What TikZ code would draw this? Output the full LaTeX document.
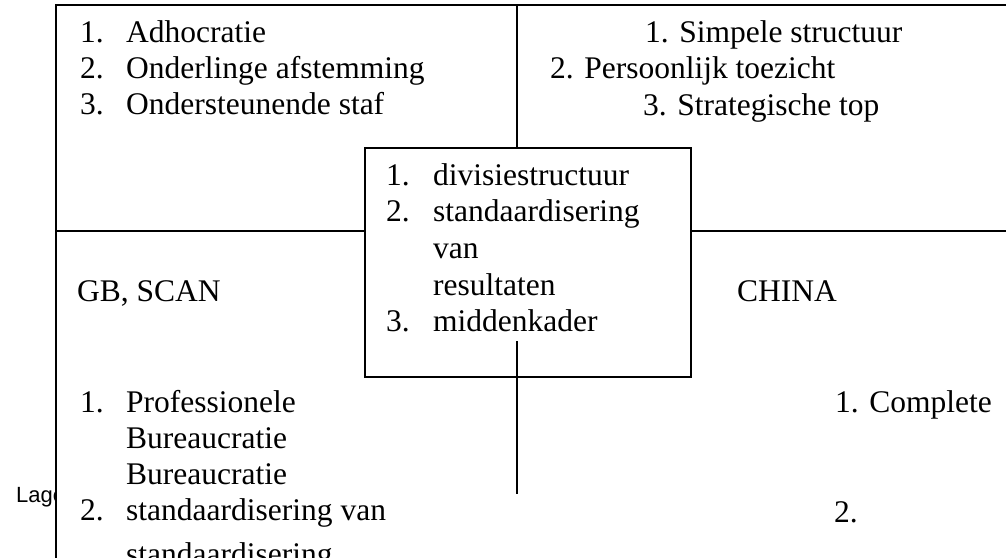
\documentclass[tikz,border=0pt]{standalone}
\usepackage{fontspec}
\setmainfont{Liberation Serif}
\newfontfamily\lagefont{Liberation Sans}
\begin{document}
\begin{tikzpicture}[
    x=1pt, y=-1pt,
    frame/.style={line width=1.8pt, line cap=rect},
    item/.style={anchor=base west, inner sep=0pt, font=\fontsize{31.5}{36}\selectfont},
    midbox/.style={draw, line width=1.8pt, minimum width=326pt, minimum height=229pt, inner sep=0pt},
]
\useasboundingbox (0,0) rectangle (1006,557);

% Tekst links buiten het kader
\begin{scope}
\clip (0,0) rectangle (56,557);
\node[anchor=base west, inner sep=0pt, font=\lagefont\fontsize{22}{24}\selectfont] (lage) at (16,502) {Lage};
\end{scope}

% Kader
\coordinate (tl) at (56,5);
\coordinate (tr) at (1010,5);
\coordinate (bl) at (56,560);
\coordinate (hl) at (56,231);
\coordinate (hr) at (1010,231);
\coordinate (vt) at (517,5);
\coordinate (vb1) at (517,342);
\coordinate (vb2) at (517,493);

\node[midbox] (mid) at (528,262.5) {};

\draw[frame] (bl) -- (tl) -- (tr);
\draw[frame] (hl) -- (hl -| mid.west);
\draw[frame] (hr) -- (hr -| mid.east);
\draw[frame] (vt) -- (vt |- mid.north);
\draw[frame] (vb1) -- (vb2);

% Kwadrant links boven
\node[item] (adhoc) at (80,42) {%
    \begin{tabular}[t]{@{}p{46pt}@{}l@{}}
    1. & Adhocratie \\
    2. & Onderlinge afstemming \\
    3. & Ondersteunende staf
    \end{tabular}};

% Kwadrant rechts boven
\node[item] (simpel) at (645,42) {1. Simpele structuur};
\node[item] (toezicht) at (550,78) {2. Persoonlijk toezicht};
\node[item] (top) at (643,115) {3. Strategische top};

% Middenvak
\node[item, font=\fontsize{31.5}{36.7}\selectfont] (divisie) at (386,185) {%
    \begin{tabular}[t]{@{}p{47pt}@{}l@{}}
    1. & divisiestructuur \\
    2. & standaardisering \\
       & van \\
       & resultaten \\
    3. & middenkader
    \end{tabular}};

% Landen
\node[item] (gbscan) at (77,301) {GB, SCAN};
\node[item] (china) at (737,301) {CHINA};

% Kwadrant links onder
\node[item] (prof) at (80,412) {%
    \begin{tabular}[t]{@{}p{46pt}@{}l@{}}
    1. & Professionele \\
       & Bureaucratie \\
       & Bureaucratie \\
    2. & standaardisering van \\[8pt]
       & standaardisering
    \end{tabular}};

% Kwadrant rechts onder
\node[item] (compl) at (835,412) {1. Complete};
\node[item] (twee) at (834,522) {2.};

\end{tikzpicture}
\end{document}
